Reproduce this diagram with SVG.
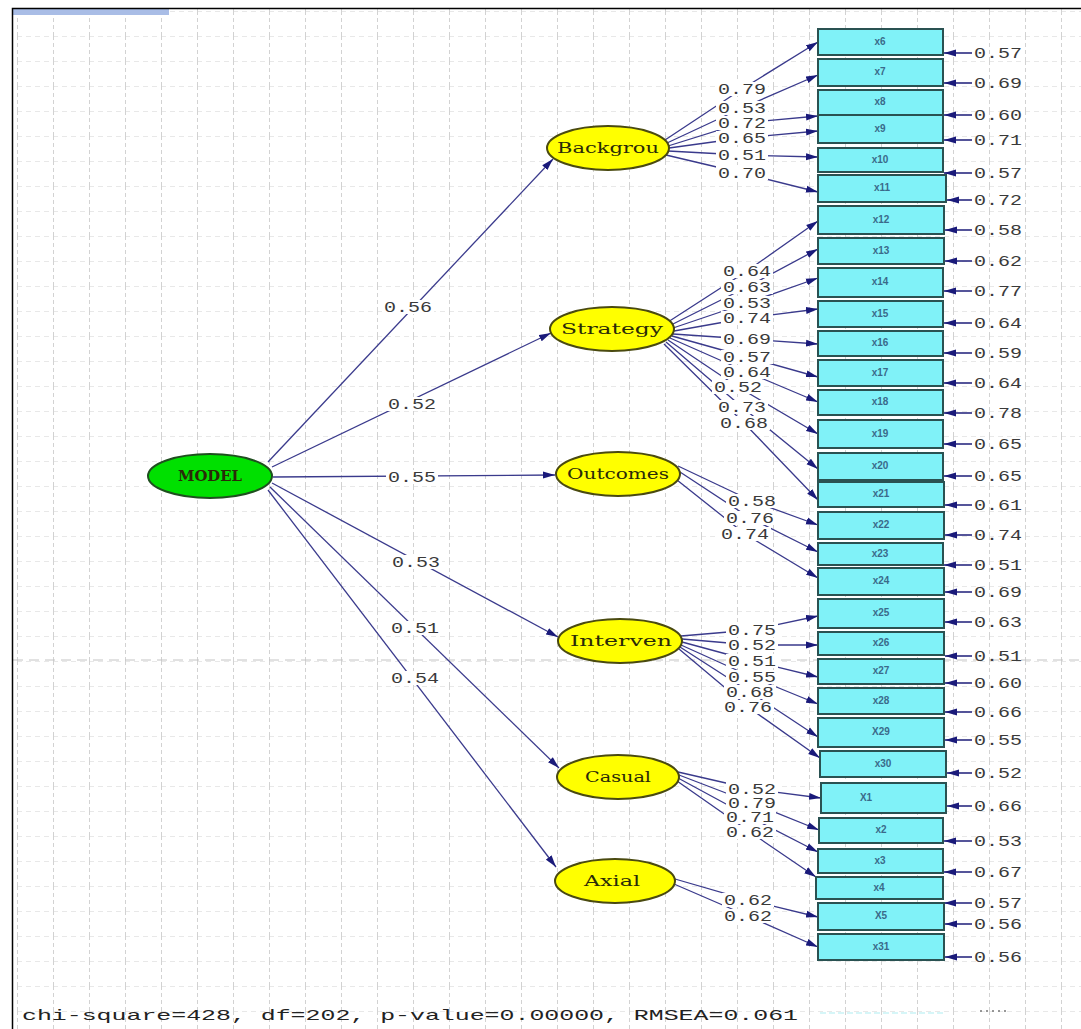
<svg xmlns="http://www.w3.org/2000/svg" width="1081" height="1029" viewBox="0 0 1081 1029">
<defs>
<style>
.path{stroke:#3a3a8c;stroke-width:1.3;fill:none;marker-end:url(#ah)}
.err{stroke:#2a2a80;stroke-width:1.6;fill:none;marker-end:url(#ah)}
.lbg{fill:#ffffff}
.lbl{font-family:"Liberation Mono","DejaVu Sans Mono",monospace;font-size:14px;fill:#3a3a3a}
.box{fill:#80f2f8;stroke:#2a5252;stroke-width:2}
.bt{font-family:"Liberation Sans",Arial,sans-serif;font-size:10px;font-weight:bold;fill:#3a6a8a;text-anchor:middle}
.lat{fill:#ffff00;stroke:#4a4a10;stroke-width:2}
.lt{font-family:"DejaVu Serif","Liberation Serif",serif;font-size:14px;fill:#2a2a08;text-anchor:middle}
</style>
<marker id="ah" viewBox="0 0 12 8" refX="12" refY="4" markerWidth="12" markerHeight="8" markerUnits="userSpaceOnUse" orient="auto">
<path d="M0,0.5 L12,4 L0,7.5 z" fill="#1a1a7a"/>
</marker>
<pattern id="grid" x="17" y="11" width="36" height="25" patternUnits="userSpaceOnUse">
<path d="M0,0 H36" stroke="#d2d2d2" stroke-width="1" stroke-dasharray="5 4"/>
<path d="M0.5,0 V25" stroke="#d2d2d2" stroke-width="1" stroke-dasharray="4 3"/>
</pattern>
</defs>
<rect x="0" y="0" width="1081" height="1029" fill="#ffffff"/>
<rect x="13" y="9" width="1068" height="1020" fill="url(#grid)"/>
<line x1="13" y1="660" x2="1081" y2="660" stroke="#c4c4c4" stroke-width="1" stroke-dasharray="10 6"/>
<rect x="13" y="9" width="156" height="6" fill="#a9bde6"/>
<path d="M12.5,1029 V8.5 H1081" fill="none" stroke="#000000" stroke-width="1.5"/>
<line x1="820" y1="1013" x2="945" y2="1013" stroke="#aeeef2" stroke-width="1.2" stroke-dasharray="6 3"/>
<line x1="980" y1="1011" x2="1010" y2="1011" stroke="#777777" stroke-width="1.5" stroke-dasharray="2 4"/>

<g id="connectors">
<path class="path" d="M268,462 L553,159"/>
<path class="path" d="M272,467 L551,333"/>
<path class="path" d="M273,477 L555,475"/>
<path class="path" d="M272,483 L558,637"/>
<path class="path" d="M270,487 L559,768"/>
<path class="path" d="M268,490 L556,867"/>
<path class="path" d="M665,140 L742,89 L818,42"/>
<path class="path" d="M667,143 L742,108 L818,75"/>
<path class="path" d="M668,146 L742,123 L818,116"/>
<path class="path" d="M669,148 L742,138 L818,131"/>
<path class="path" d="M668,151 L742,155 L818,157"/>
<path class="path" d="M666,155 L742,173 L818,192"/>
<path class="path" d="M668,322 L747,271 L818,221"/>
<path class="path" d="M671,325 L747,287 L818,249"/>
<path class="path" d="M673,328 L747,303 L818,278"/>
<path class="path" d="M674,331 L747,318 L818,309"/>
<path class="path" d="M673,334 L747,339 L818,344"/>
<path class="path" d="M672,336 L747,357 L818,377"/>
<path class="path" d="M670,338 L747,372 L818,402"/>
<path class="path" d="M668,340 L738,387 L818,434"/>
<path class="path" d="M666,342 L742,407 L818,469"/>
<path class="path" d="M664,344 L744,423 L818,500"/>
<path class="path" d="M678,466 L752,501 L818,525"/>
<path class="path" d="M680,472 L750,518 L818,552"/>
<path class="path" d="M677,480 L745,534 L818,578"/>
<path class="path" d="M681,636 L752,630 L818,616"/>
<path class="path" d="M682,639 L752,645 L818,645"/>
<path class="path" d="M682,642 L752,661 L818,677"/>
<path class="path" d="M681,645 L752,677 L818,704"/>
<path class="path" d="M680,647 L750,692 L818,737"/>
<path class="path" d="M679,649 L748,707 L820,758"/>
<path class="path" d="M678,772 L752,789 L821,798"/>
<path class="path" d="M679,775 L752,803 L819,830"/>
<path class="path" d="M678,778 L750,817 L818,852"/>
<path class="path" d="M677,781 L750,832 L816,877"/>
<path class="path" d="M675,879 L748,900 L818,917"/>
<path class="path" d="M674,884 L748,916 L818,947"/>
<path class="err" d="M972,53 H944"/>
<path class="err" d="M972,83 H944"/>
<path class="err" d="M972,115 H944"/>
<path class="err" d="M972,140 H944"/>
<path class="err" d="M972,173 H944"/>
<path class="err" d="M972,200 H947"/>
<path class="err" d="M972,230 H945"/>
<path class="err" d="M972,261 H945"/>
<path class="err" d="M972,291 H944"/>
<path class="err" d="M972,323 H944"/>
<path class="err" d="M972,353 H944"/>
<path class="err" d="M972,383 H944"/>
<path class="err" d="M972,413 H944"/>
<path class="err" d="M972,444 H944"/>
<path class="err" d="M972,476 H944"/>
<path class="err" d="M972,505 H945"/>
<path class="err" d="M972,535 H945"/>
<path class="err" d="M972,565 H944"/>
<path class="err" d="M972,592 H945"/>
<path class="err" d="M972,622 H945"/>
<path class="err" d="M972,656 H945"/>
<path class="err" d="M972,683 H945"/>
<path class="err" d="M972,712 H945"/>
<path class="err" d="M972,740 H945"/>
<path class="err" d="M972,773 H947"/>
<path class="err" d="M972,806 H947"/>
<path class="err" d="M972,841 H944"/>
<path class="err" d="M972,872 H944"/>
<path class="err" d="M972,903 H944"/>
<path class="err" d="M972,924 H945"/>
<path class="err" d="M972,957 H945"/>

<g>
<rect class="lbg" x="382" y="300" width="52" height="14"/><text class="lbl" x="384" y="312" textLength="48" lengthAdjust="spacingAndGlyphs">0.56</text>
<rect class="lbg" x="386" y="397" width="52" height="14"/><text class="lbl" x="388" y="409" textLength="48" lengthAdjust="spacingAndGlyphs">0.52</text>
<rect class="lbg" x="386" y="470" width="52" height="14"/><text class="lbl" x="388" y="482" textLength="48" lengthAdjust="spacingAndGlyphs">0.55</text>
<rect class="lbg" x="390" y="555" width="52" height="14"/><text class="lbl" x="392" y="567" textLength="48" lengthAdjust="spacingAndGlyphs">0.53</text>
<rect class="lbg" x="389" y="621" width="52" height="14"/><text class="lbl" x="391" y="633" textLength="48" lengthAdjust="spacingAndGlyphs">0.51</text>
<rect class="lbg" x="389" y="671" width="52" height="14"/><text class="lbl" x="391" y="683" textLength="48" lengthAdjust="spacingAndGlyphs">0.54</text>
</g>
<g>
<rect class="lbg" x="716" y="82" width="52" height="14"/><text class="lbl" x="718" y="94" textLength="48" lengthAdjust="spacingAndGlyphs">0.79</text>
<rect class="lbg" x="716" y="101" width="52" height="14"/><text class="lbl" x="718" y="113" textLength="48" lengthAdjust="spacingAndGlyphs">0.53</text>
<rect class="lbg" x="716" y="116" width="52" height="14"/><text class="lbl" x="718" y="128" textLength="48" lengthAdjust="spacingAndGlyphs">0.72</text>
<rect class="lbg" x="716" y="131" width="52" height="14"/><text class="lbl" x="718" y="143" textLength="48" lengthAdjust="spacingAndGlyphs">0.65</text>
<rect class="lbg" x="716" y="148" width="52" height="14"/><text class="lbl" x="718" y="160" textLength="48" lengthAdjust="spacingAndGlyphs">0.51</text>
<rect class="lbg" x="716" y="166" width="52" height="14"/><text class="lbl" x="718" y="178" textLength="48" lengthAdjust="spacingAndGlyphs">0.70</text>
</g>
<g>
<rect class="lbg" x="721" y="264" width="52" height="14"/><text class="lbl" x="723" y="276" textLength="48" lengthAdjust="spacingAndGlyphs">0.64</text>
<rect class="lbg" x="721" y="280" width="52" height="14"/><text class="lbl" x="723" y="292" textLength="48" lengthAdjust="spacingAndGlyphs">0.63</text>
<rect class="lbg" x="721" y="296" width="52" height="14"/><text class="lbl" x="723" y="308" textLength="48" lengthAdjust="spacingAndGlyphs">0.53</text>
<rect class="lbg" x="721" y="311" width="52" height="14"/><text class="lbl" x="723" y="323" textLength="48" lengthAdjust="spacingAndGlyphs">0.74</text>
<rect class="lbg" x="721" y="332" width="52" height="14"/><text class="lbl" x="723" y="344" textLength="48" lengthAdjust="spacingAndGlyphs">0.69</text>
<rect class="lbg" x="721" y="350" width="52" height="14"/><text class="lbl" x="723" y="362" textLength="48" lengthAdjust="spacingAndGlyphs">0.57</text>
<rect class="lbg" x="721" y="365" width="52" height="14"/><text class="lbl" x="723" y="377" textLength="48" lengthAdjust="spacingAndGlyphs">0.64</text>
<rect class="lbg" x="712" y="380" width="52" height="14"/><text class="lbl" x="714" y="392" textLength="48" lengthAdjust="spacingAndGlyphs">0.52</text>
<rect class="lbg" x="716" y="400" width="52" height="14"/><text class="lbl" x="718" y="412" textLength="48" lengthAdjust="spacingAndGlyphs">0.73</text>
<rect class="lbg" x="718" y="416" width="52" height="14"/><text class="lbl" x="720" y="428" textLength="48" lengthAdjust="spacingAndGlyphs">0.68</text>
</g>
<g>
<rect class="lbg" x="726" y="494" width="52" height="14"/><text class="lbl" x="728" y="506" textLength="48" lengthAdjust="spacingAndGlyphs">0.58</text>
<rect class="lbg" x="724" y="511" width="52" height="14"/><text class="lbl" x="726" y="523" textLength="48" lengthAdjust="spacingAndGlyphs">0.76</text>
<rect class="lbg" x="719" y="527" width="52" height="14"/><text class="lbl" x="721" y="539" textLength="48" lengthAdjust="spacingAndGlyphs">0.74</text>
</g>
<g>
<rect class="lbg" x="726" y="623" width="52" height="14"/><text class="lbl" x="728" y="635" textLength="48" lengthAdjust="spacingAndGlyphs">0.75</text>
<rect class="lbg" x="726" y="638" width="52" height="14"/><text class="lbl" x="728" y="650" textLength="48" lengthAdjust="spacingAndGlyphs">0.52</text>
<rect class="lbg" x="726" y="654" width="52" height="14"/><text class="lbl" x="728" y="666" textLength="48" lengthAdjust="spacingAndGlyphs">0.51</text>
<rect class="lbg" x="726" y="670" width="52" height="14"/><text class="lbl" x="728" y="682" textLength="48" lengthAdjust="spacingAndGlyphs">0.55</text>
<rect class="lbg" x="724" y="685" width="52" height="14"/><text class="lbl" x="726" y="697" textLength="48" lengthAdjust="spacingAndGlyphs">0.68</text>
<rect class="lbg" x="722" y="700" width="52" height="14"/><text class="lbl" x="724" y="712" textLength="48" lengthAdjust="spacingAndGlyphs">0.76</text>
</g>
<g>
<rect class="lbg" x="726" y="782" width="52" height="14"/><text class="lbl" x="728" y="794" textLength="48" lengthAdjust="spacingAndGlyphs">0.52</text>
<rect class="lbg" x="726" y="796" width="52" height="14"/><text class="lbl" x="728" y="808" textLength="48" lengthAdjust="spacingAndGlyphs">0.79</text>
<rect class="lbg" x="724" y="810" width="52" height="14"/><text class="lbl" x="726" y="822" textLength="48" lengthAdjust="spacingAndGlyphs">0.71</text>
<rect class="lbg" x="724" y="825" width="52" height="14"/><text class="lbl" x="726" y="837" textLength="48" lengthAdjust="spacingAndGlyphs">0.62</text>
</g>
<g>
<rect class="lbg" x="722" y="893" width="52" height="14"/><text class="lbl" x="724" y="905" textLength="48" lengthAdjust="spacingAndGlyphs">0.62</text>
<rect class="lbg" x="722" y="909" width="52" height="14"/><text class="lbl" x="724" y="921" textLength="48" lengthAdjust="spacingAndGlyphs">0.62</text>
</g>
<g class="lbl">
<text x="974" y="58" textLength="48" lengthAdjust="spacingAndGlyphs">0.57</text>
<text x="974" y="88" textLength="48" lengthAdjust="spacingAndGlyphs">0.69</text>
<text x="974" y="120" textLength="48" lengthAdjust="spacingAndGlyphs">0.60</text>
<text x="974" y="145" textLength="48" lengthAdjust="spacingAndGlyphs">0.71</text>
<text x="974" y="178" textLength="48" lengthAdjust="spacingAndGlyphs">0.57</text>
<text x="974" y="205" textLength="48" lengthAdjust="spacingAndGlyphs">0.72</text>
<text x="974" y="235" textLength="48" lengthAdjust="spacingAndGlyphs">0.58</text>
<text x="974" y="266" textLength="48" lengthAdjust="spacingAndGlyphs">0.62</text>
<text x="974" y="296" textLength="48" lengthAdjust="spacingAndGlyphs">0.77</text>
<text x="974" y="328" textLength="48" lengthAdjust="spacingAndGlyphs">0.64</text>
<text x="974" y="358" textLength="48" lengthAdjust="spacingAndGlyphs">0.59</text>
<text x="974" y="388" textLength="48" lengthAdjust="spacingAndGlyphs">0.64</text>
<text x="974" y="418" textLength="48" lengthAdjust="spacingAndGlyphs">0.78</text>
<text x="974" y="449" textLength="48" lengthAdjust="spacingAndGlyphs">0.65</text>
<text x="974" y="481" textLength="48" lengthAdjust="spacingAndGlyphs">0.65</text>
<text x="974" y="510" textLength="48" lengthAdjust="spacingAndGlyphs">0.61</text>
<text x="974" y="540" textLength="48" lengthAdjust="spacingAndGlyphs">0.74</text>
<text x="974" y="570" textLength="48" lengthAdjust="spacingAndGlyphs">0.51</text>
<text x="974" y="597" textLength="48" lengthAdjust="spacingAndGlyphs">0.69</text>
<text x="974" y="627" textLength="48" lengthAdjust="spacingAndGlyphs">0.63</text>
<text x="974" y="661" textLength="48" lengthAdjust="spacingAndGlyphs">0.51</text>
<text x="974" y="688" textLength="48" lengthAdjust="spacingAndGlyphs">0.60</text>
<text x="974" y="717" textLength="48" lengthAdjust="spacingAndGlyphs">0.66</text>
<text x="974" y="745" textLength="48" lengthAdjust="spacingAndGlyphs">0.55</text>
<text x="974" y="778" textLength="48" lengthAdjust="spacingAndGlyphs">0.52</text>
<text x="974" y="811" textLength="48" lengthAdjust="spacingAndGlyphs">0.66</text>
<text x="974" y="846" textLength="48" lengthAdjust="spacingAndGlyphs">0.53</text>
<text x="974" y="877" textLength="48" lengthAdjust="spacingAndGlyphs">0.67</text>
<text x="974" y="908" textLength="48" lengthAdjust="spacingAndGlyphs">0.57</text>
<text x="974" y="929" textLength="48" lengthAdjust="spacingAndGlyphs">0.56</text>
<text x="974" y="962" textLength="48" lengthAdjust="spacingAndGlyphs">0.56</text>
</g>
</g>

<g id="node-MODEL"><ellipse cx="210" cy="476" rx="62" ry="22" fill="#00e000" stroke="#1f4f1f" stroke-width="2"/><text class="lt" x="210" y="481" font-weight="bold" fill="#143814" textLength="64" lengthAdjust="spacingAndGlyphs">MODEL</text></g>
<g id="node-Backgrou"><ellipse class="lat" cx="608" cy="148" rx="61" ry="22"/><text class="lt" x="608" y="153" textLength="102" lengthAdjust="spacingAndGlyphs">Backgrou</text></g>
<g id="node-Strategy"><ellipse class="lat" cx="612" cy="329" rx="62" ry="22"/><text class="lt" x="612" y="334" textLength="102" lengthAdjust="spacingAndGlyphs">Strategy</text></g>
<g id="node-Outcomes"><ellipse class="lat" cx="618" cy="474" rx="62" ry="22"/><text class="lt" x="618" y="479" textLength="102" lengthAdjust="spacingAndGlyphs">Outcomes</text></g>
<g id="node-Interven"><ellipse class="lat" cx="620" cy="641" rx="62" ry="22"/><text class="lt" x="621" y="646" textLength="102" lengthAdjust="spacingAndGlyphs">Interven</text></g>
<g id="node-Casual"><ellipse class="lat" cx="618" cy="777" rx="61" ry="22"/><text class="lt" x="618" y="782" textLength="66" lengthAdjust="spacingAndGlyphs">Casual</text></g>
<g id="node-Axial"><ellipse class="lat" cx="615" cy="881" rx="60" ry="22"/><text class="lt" x="612" y="886" textLength="56" lengthAdjust="spacingAndGlyphs">Axial</text></g>

<g id="node-x6"><rect class="box" x="818" y="29" width="125" height="26"/><text class="bt" x="880" y="45">x6</text></g>
<g id="node-x7"><rect class="box" x="818" y="59" width="125" height="27"/><text class="bt" x="880" y="75">x7</text></g>
<g id="node-x8"><rect class="box" x="818" y="90" width="125" height="25"/><text class="bt" x="880" y="105">x8</text></g>
<g id="node-x9"><rect class="box" x="818" y="115" width="125" height="28"/><text class="bt" x="880" y="132">x9</text></g>
<g id="node-x10"><rect class="box" x="818" y="148" width="125" height="24"/><text class="bt" x="880" y="163">x10</text></g>
<g id="node-x11"><rect class="box" x="818" y="175" width="128" height="27"/><text class="bt" x="882" y="191">x11</text></g>
<g id="node-x12"><rect class="box" x="818" y="206" width="126" height="28"/><text class="bt" x="881" y="223">x12</text></g>
<g id="node-x13"><rect class="box" x="818" y="238" width="126" height="26"/><text class="bt" x="881" y="254">x13</text></g>
<g id="node-x14"><rect class="box" x="818" y="268" width="125" height="29"/><text class="bt" x="880" y="285">x14</text></g>
<g id="node-x15"><rect class="box" x="818" y="301" width="125" height="26"/><text class="bt" x="880" y="317">x15</text></g>
<g id="node-x16"><rect class="box" x="818" y="331" width="125" height="25"/><text class="bt" x="880" y="346">x16</text></g>
<g id="node-x17"><rect class="box" x="818" y="360" width="125" height="26"/><text class="bt" x="880" y="376">x17</text></g>
<g id="node-x18"><rect class="box" x="818" y="390" width="125" height="25"/><text class="bt" x="880" y="405">x18</text></g>
<g id="node-x19"><rect class="box" x="818" y="420" width="125" height="28"/><text class="bt" x="880" y="437">x19</text></g>
<g id="node-x20"><rect class="box" x="818" y="453" width="125" height="27"/><text class="bt" x="880" y="469">x20</text></g>
<g id="node-x21"><rect class="box" x="818" y="482" width="126" height="25"/><text class="bt" x="881" y="497">x21</text></g>
<g id="node-x22"><rect class="box" x="818" y="512" width="126" height="27"/><text class="bt" x="881" y="528">x22</text></g>
<g id="node-x23"><rect class="box" x="818" y="543" width="125" height="22"/><text class="bt" x="880" y="557">x23</text></g>
<g id="node-x24"><rect class="box" x="818" y="568" width="126" height="27"/><text class="bt" x="881" y="584">x24</text></g>
<g id="node-x25"><rect class="box" x="818" y="599" width="126" height="29"/><text class="bt" x="881" y="616">x25</text></g>
<g id="node-x26"><rect class="box" x="818" y="632" width="126" height="23"/><text class="bt" x="881" y="646" fill="#8ab8c0">x26</text></g>
<g id="node-x27"><rect class="box" x="818" y="659" width="126" height="25"/><text class="bt" x="881" y="674">x27</text></g>
<g id="node-x28"><rect class="box" x="818" y="688" width="126" height="26"/><text class="bt" x="881" y="704">x28</text></g>
<g id="node-X29"><rect class="box" x="818" y="718" width="126" height="29"/><text class="bt" x="881" y="735">X29</text></g>
<g id="node-x30"><rect class="box" x="820" y="751" width="126" height="26"/><text class="bt" x="883" y="767">x30</text></g>
<g id="node-X1"><rect class="box" x="821" y="783" width="125" height="30"/><text class="bt" x="866" y="801">X1</text></g>
<g id="node-x2"><rect class="box" x="819" y="818" width="124" height="25"/><text class="bt" x="881" y="833">x2</text></g>
<g id="node-x3"><rect class="box" x="818" y="849" width="125" height="24"/><text class="bt" x="880" y="864">x3</text></g>
<g id="node-x4"><rect class="box" x="816" y="877" width="127" height="22"/><text class="bt" x="879" y="891" fill="#8ab8c0">x4</text></g>
<g id="node-X5"><rect class="box" x="818" y="903" width="126" height="27"/><text class="bt" x="881" y="919">X5</text></g>
<g id="node-x31"><rect class="box" x="818" y="934" width="126" height="26"/><text class="bt" x="881" y="950">x31</text></g>

<text x="22" y="1020" font-family="Liberation Mono, monospace" font-size="15" fill="#222222" textLength="776" lengthAdjust="spacingAndGlyphs">chi-square=428, df=202, p-value=0.00000, RMSEA=0.061</text>
</svg>
